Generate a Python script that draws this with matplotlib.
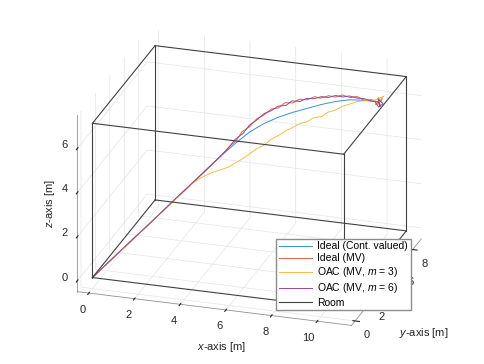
import matplotlib
matplotlib.use("Agg")
import matplotlib.pyplot as plt

plt.rcParams['font.family'] = ['Liberation Sans', 'DejaVu Sans']
plt.rcParams['mathtext.fontset'] = 'custom'
plt.rcParams['mathtext.it'] = 'Liberation Sans:italic'
plt.rcParams['mathtext.rm'] = 'Liberation Sans'
plt.rcParams['grid.color'] = '#e4e4e4'
plt.rcParams['grid.linewidth'] = 0.5
plt.rcParams['axes.edgecolor'] = '#262626'

# room size [m]
room = [11.0, 8.7, 7.0]

# ideal path, continuous valued
ideal_x = [0, 1.0, 2.0, 3.0, 4.0, 4.5, 5.0, 5.5, 6.0, 6.5, 7.0, 7.5, 8.0, 8.5, 9.0, 9.5, 10.0]
ideal_y = [0, 0.8, 1.6, 2.4, 3.2, 3.6, 4.0, 4.4, 4.8, 5.2, 5.6, 6.0, 6.4, 6.8, 7.2, 7.6, 8.0]
ideal_z = [0, 1.03, 2.06, 3.09, 4.12, 4.64, 5.11, 5.53, 5.81, 6.0, 6.12, 6.2, 6.28, 6.32, 6.3, 6.18, 6.0]

# ideal path, MV
mv_x = [0, 1.0, 2.0, 3.0, 4.0, 4.27, 4.48, 4.77, 5.02, 5.23, 5.5, 5.76, 5.98, 6.27, 6.5, 6.73, 7.02,
        7.24, 7.5, 7.77, 7.98, 8.26, 8.5, 8.73, 9.02, 9.24, 9.5, 9.77, 10.0,
        10.15, 9.9, 10.1, 10.0]
mv_y = [0, 0.8, 1.6, 2.4, 3.2, 3.38, 3.62, 3.79, 4.02, 4.18, 4.41, 4.58, 4.81, 4.99, 5.2, 5.42, 5.58,
        5.81, 6.0, 6.22, 6.38, 6.61, 6.8, 7.01, 7.18, 7.42, 7.6, 7.78, 8.0,
        8.05, 7.95, 8.1, 7.9]
mv_z = [0, 1.03, 2.06, 3.09, 4.14, 4.42, 4.61, 4.99, 5.21, 5.59, 5.77, 6.09, 6.18, 6.43, 6.42, 6.6, 6.56,
        6.67, 6.59, 6.68, 6.57, 6.63, 6.52, 6.56, 6.41, 6.39, 6.18, 6.17, 6.0,
        6.15, 5.9, 6.05, 5.95]

# OAC, m = 3
oac3_x = [0, 1.0, 2.0, 3.0, 3.27, 3.48, 3.76, 4.02, 4.24, 4.5, 4.77, 4.98, 5.26, 5.5, 5.73, 6.02,
          6.24, 6.5, 6.77, 6.98, 7.26, 7.5, 7.73, 8.02, 8.24, 8.5, 8.77, 8.98, 9.26, 9.5, 9.73, 10.0,
          10.2, 9.85, 10.1, 9.95, 10.15]
oac3_y = [0, 0.8, 1.6, 2.4, 2.58, 2.82, 2.99, 3.18, 3.42, 3.6, 3.78, 4.02, 4.18, 4.4, 4.62, 4.78,
          5.02, 5.2, 5.38, 5.62, 5.78, 6.0, 6.22, 6.38, 6.62, 6.8, 6.98, 7.22, 7.38, 7.6, 7.82, 8.0,
          8.1, 7.9, 7.95, 8.15, 8.0]
oac3_z = [0, 1.03, 2.06, 3.09, 3.33, 3.56, 3.77, 3.89, 3.95, 4.01, 4.09, 4.2, 4.37, 4.54, 4.7, 4.85,
          5.04, 5.17, 5.34, 5.42, 5.57, 5.6, 5.72, 5.75, 5.88, 5.93, 6.07, 6.09, 6.18, 6.15, 6.11, 6.0,
          6.25, 6.1, 5.85, 6.15, 6.0]

# OAC, m = 6
oac6_x = [0, 1.0, 2.0, 3.0, 4.0, 4.23, 4.52, 4.74, 4.98, 5.27, 5.5, 5.73, 6.02, 6.24, 6.5, 6.77,
          6.98, 7.26, 7.5, 7.73, 8.02, 8.24, 8.5, 8.77, 8.98, 9.26, 9.5, 9.73, 10.0,
          10.1, 9.95, 10.2, 10.0, 9.9]
oac6_y = [0, 0.78, 1.58, 2.38, 3.18, 3.42, 3.58, 3.82, 3.98, 4.22, 4.38, 4.62, 4.78, 5.02, 5.18, 5.42,
          5.58, 5.82, 5.98, 6.22, 6.38, 6.62, 6.78, 7.02, 7.18, 7.42, 7.58, 7.82, 8.0,
          7.95, 8.1, 8.0, 8.05, 7.9]
oac6_z = [0, 1.05, 2.06, 3.11, 4.12, 4.37, 4.69, 4.92, 5.28, 5.51, 5.85, 6.0, 6.28, 6.33, 6.51, 6.48,
          6.65, 6.56, 6.67, 6.58, 6.65, 6.54, 6.6, 6.47, 6.48, 6.32, 6.26, 6.09, 6.0,
          5.85, 6.1, 5.95, 5.75, 6.0]

fig = plt.figure(figsize=(4.85, 3.64), dpi=100)
ax = fig.add_axes([0.004, 0.0, 1.0, 1.0], projection='3d', proj_type='ortho')
ax.computed_zorder = False

ax.plot(ideal_x, ideal_y, ideal_z, color='#3a8fd0', lw=0.7, label='Ideal (Cont. valued)')
ax.plot(mv_x, mv_y, mv_z, color='#e0643a', lw=0.7, label='Ideal (MV)')
ax.plot(oac3_x, oac3_y, oac3_z, color='#f2bf45', lw=0.7, label='OAC (MV, $m$ = 3)')
ax.plot(oac6_x, oac6_y, oac6_z, color='#8f4a9e', lw=0.7, label='OAC (MV, $m$ = 6)')

# room edges
X, Y, Z = room
edges = [
    ([0, X], [0, 0], [0, 0]), ([0, X], [Y, Y], [0, 0]), ([0, X], [0, 0], [Z, Z]), ([0, X], [Y, Y], [Z, Z]),
    ([0, 0], [0, Y], [0, 0]), ([X, X], [0, Y], [0, 0]), ([0, 0], [0, Y], [Z, Z]), ([X, X], [0, Y], [Z, Z]),
    ([0, 0], [0, 0], [0, Z]), ([X, X], [0, 0], [0, Z]), ([0, 0], [Y, Y], [0, Z]), ([X, X], [Y, Y], [0, Z]),
]
for i, (ex, ey, ez) in enumerate(edges):
    ax.plot(ex, ey, ez, color='#404040', lw=0.8, label='Room' if i == 0 else None)

ax.set_xlim(-0.5, X + 0.5)
ax.set_ylim(-0.5, Y + 0.5)
ax.set_zlim(-0.5, Z + 0.5)
ax.set_xticks([0, 2, 4, 6, 8, 10])
ax.set_yticks([0, 2, 4, 6, 8])
ax.set_zticks([0, 2, 4, 6])
ax.set_box_aspect((X + 1, Y + 1, Z + 1), zoom=1.11)
ax.view_init(elev=23, azim=-72.5)

for axis in (ax.xaxis, ax.yaxis, ax.zaxis):
    axis.set_pane_color((1, 1, 1, 0))
    axis.pane.set_edgecolor('#d0d0d0')
    axis.line.set_color('#909090')
    axis.line.set_linewidth(0.6)
ax.zaxis.set_ticks_position('lower')
ax.tick_params(labelsize=8, colors='#262626', pad=0)
ax.tick_params(axis='x', pad=-2)
ax.tick_params(axis='y', pad=-2)
ax.tick_params(axis='z', pad=-3)
plt.setp(ax.get_zticklabels(), va='bottom')
plt.setp(ax.get_xticklabels(), ha='right')

fig.text(0.458, 0.047, '$x$-axis [m]', fontsize=8, color='#262626', ha='center', va='center')
fig.text(0.874, 0.085, '$y$-axis [m]', fontsize=8, color='#262626', ha='center', va='center')
fig.text(0.103, 0.442, '$z$-axis [m]', fontsize=8, color='#262626', ha='center', va='center',
         rotation=90)

ax.legend(loc='lower right', bbox_to_anchor=(0.847, 0.148), bbox_transform=fig.transFigure,
          fontsize=7.5, frameon=True, fancybox=False, edgecolor='#8c8c8c', framealpha=1,
          handlelength=3.2, handletextpad=0.5, labelspacing=0.2, borderpad=0.25, borderaxespad=0)

fig.savefig('out.png', dpi=100)
